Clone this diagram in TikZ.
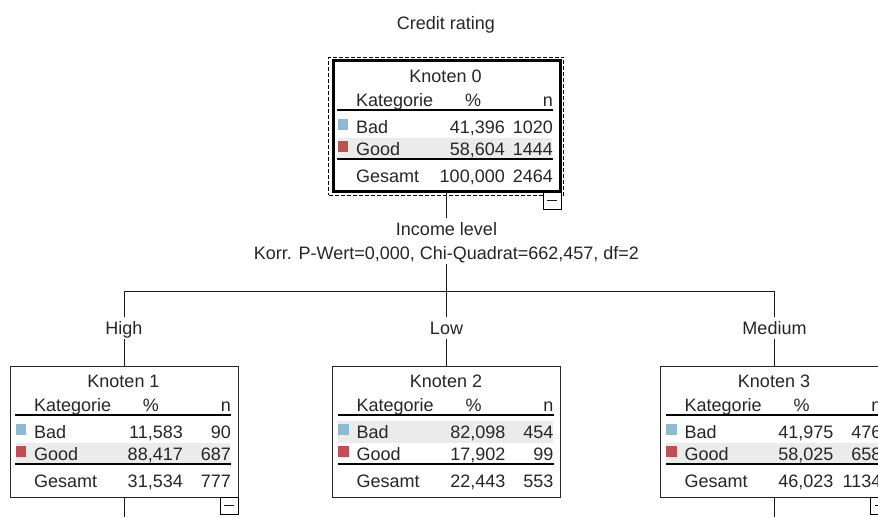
\documentclass[tikz,border=0pt]{standalone}
\usepackage{fontspec}
\setmainfont{Liberation Sans}
\definecolor{swblue}{HTML}{8DBAD3}
\definecolor{swred}{HTML}{C24E54}
\definecolor{rowgray}{HTML}{EBEBEB}
\tikzset{
  nodebox/.style={draw=black!85,line width=1pt,fill=none,inner sep=0pt,outer sep=0pt,minimum width=228pt,minimum height=131pt,anchor=north west},
  rootbox/.style={nodebox,draw=black,line width=3pt,minimum width=227pt,minimum height=130.5pt},
  focusbox/.style={draw=black,line width=1pt,dash pattern=on 4pt off 2pt,inner sep=0pt,outer sep=0pt,minimum width=235pt,minimum height=138pt,anchor=north west},
  togglebox/.style={draw=black,line width=1pt,fill=white,inner sep=0pt,outer sep=0pt,minimum width=18pt,minimum height=17pt,anchor=north east},
  txt/.style={inner sep=0pt,font=\fontsize{18pt}{20pt}\selectfont,text=black!85},
  tc/.style={txt,anchor=base},
  tl/.style={txt,anchor=base west},
  tr/.style={txt,anchor=base east},
  swatch/.style={inner sep=0pt,outer sep=0pt,minimum width=10.5pt,minimum height=11pt,anchor=north west},
  rule/.style={line width=1.2pt,draw=black},
  conn/.style={line width=1pt,draw=black!90},
  lbl/.style={txt,anchor=base,text height=17pt,text depth=4.5pt},
  graybar/.style={fill=rowgray},
}
\newcommand{\rowsA}[7]{%
  % #1 name #2 x #3 y #4 title #5-#6 Bad % and n #7 Good %
  \node[tc] (#1t) at (#2+113.5,#3+21) {#4};
  \node[tl] (#1k) at (#2+24,#3+45.5) {Kategorie};
  \node[tc] (#1p) at (#2+141,#3+45.5) {\%};
  \node[tr] (#1n) at (#2+221,#3+45.5) {n};
  \draw[rule] (#2+5,#3+49) -- (#2+221,#3+49);
  \node[swatch,fill=swblue] (#1sb) at (#2+5.5,#3+58) {};
  \node[swatch,fill=swred] (#1sg) at (#2+5.5,#3+80) {};
  \node[tl] (#1bad) at (#2+24,#3+72) {Bad};
  \node[tl] (#1good) at (#2+24,#3+94) {Good};
  \node[tl] (#1ges) at (#2+24,#3+121) {Gesamt};
  \draw[rule] (#2+5,#3+98) -- (#2+221,#3+98);
  \node[tr] (#1bp) at (#2+173,#3+72) {#5};
  \node[tr] (#1bn) at (#2+221,#3+72) {#6};
  \node[tr] (#1gp) at (#2+173,#3+94) {#7};
}
\newcommand{\rowsB}[6]{%
  % #1 name #2 x #3 y #4 good n #5 total % #6 total n
  \node[tr] (#1gn) at (#2+221,#3+94) {#4};
  \node[tr] (#1tp) at (#2+173,#3+121) {#5};
  \node[tr] (#1tn) at (#2+221,#3+121) {#6};
}
\begin{document}
\begin{tikzpicture}[x=1pt,y=-1pt]
\useasboundingbox (0,0) rectangle (878,517);
\fill[white] (0,0) rectangle (878,517);
\node[tc] (title) at (446,29) {Credit rating};
% root
\fill[graybar] (337.5,138) rectangle (552,158);
\rowsA{a}{332}{61}{Knoten 0}{41,396}{1020}{58,604}
\rowsB{a}{332}{61}{1444}{100,000}{2464}
\node[rootbox] (n0) at (333,60.5) {};
\node[focusbox] (f0) at (328.5,57) {};
\node[togglebox] (t0) at (561,192) {};
\draw[conn] ([xshift=-5pt]t0.center) -- ([xshift=5pt]t0.center);
% node 1
\fill[graybar] (15.5,443) rectangle (230,463);
\rowsA{b}{10}{366}{Knoten 1}{11,583}{90}{88,417}
\rowsB{b}{10}{366}{687}{31,534}{777}
\node[nodebox] (n1) at (10,366) {};
\node[togglebox] (t1) at (238,497) {};
\draw[conn] ([xshift=-5pt]t1.center) -- ([xshift=5pt]t1.center);
% node 2
\fill[graybar] (338,421) rectangle (552.5,443);
\rowsA{c}{332.5}{366}{Knoten 2}{82,098}{454}{17,902}
\rowsB{c}{332.5}{366}{99}{22,443}{553}
\node[nodebox] (n2) at (332.5,366) {};
% node 3
\fill[graybar] (666,443) rectangle (880.5,463);
\rowsA{d}{660.5}{366}{Knoten 3}{41,975}{476}{58,025}
\rowsB{d}{660.5}{366}{658}{46,023}{1134}
\node[nodebox] (n3) at (660.5,366) {};
\node[togglebox] (t3) at (888.5,497) {};
\draw[conn] ([xshift=-5pt]t3.center) -- ([xshift=5pt]t3.center);
% labels
\node[lbl] (inc) at (446.5,235) {Income level};
\node[lbl] (stat) at (446.5,259) {Korr. P-Wert=0,000, Chi-Quadrat=662,457, df=2};
\node[lbl] (lhigh) at (124,334.5) {High};
\node[lbl] (llow) at (446.5,334.5) {Low};
\node[lbl] (lmed) at (774.5,334.5) {Medium};
\coordinate (hub) at (446.5,291);
\coordinate (e1) at (124,517);
\coordinate (e3) at (774.5,517);
% connectors
\draw[conn] (n0.south) -- (inc.north);
\draw[conn] (stat.south) -- (hub);
\draw[conn] (lhigh.north) |- (hub);
\draw[conn] (lmed.north) |- (hub);
\draw[conn] (hub) -- (llow.north);
\draw[conn] (lhigh.south) -- (n1.north);
\draw[conn] (llow.south) -- (n2.north);
\draw[conn] (lmed.south) -- (n3.north);
\draw[conn] (n1.south) -- (e1);
\draw[conn] (n3.south) -- (e3);
\end{tikzpicture}
\end{document}
